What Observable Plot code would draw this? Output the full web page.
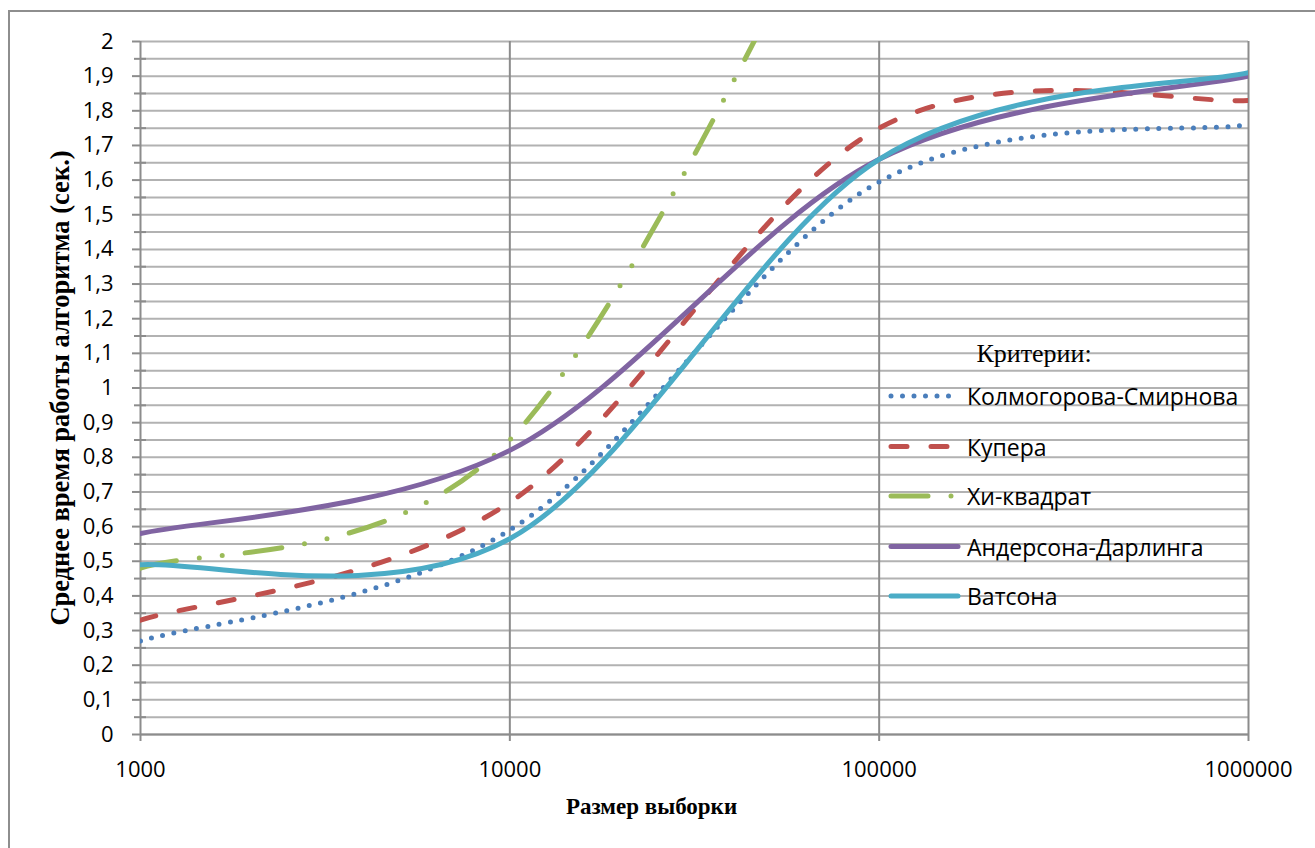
<!DOCTYPE html>
<html><head><meta charset="utf-8">
<script src="https://cdn.jsdelivr.net/npm/d3@7"></script>
<script src="https://cdn.jsdelivr.net/npm/@observablehq/plot@0.6"></script>
<style>
html,body{margin:0;padding:0;background:#fff;overflow:hidden;}
#wrap{position:relative;width:1315px;height:848px;}
#wrap svg{position:absolute;left:0;top:0;}
#frame{position:absolute;left:8px;top:10px;width:1400px;height:900px;border-left:2px solid #8e8e8e;border-top:2px solid #8e8e8e;}
</style></head><body><div id="wrap"><div id="frame"></div></div>
<script>
// ---- data ----
const sizes = [1000, 10000, 100000, 1000000];
const kolmogorov = [0.27, 0.59, 1.595, 1.76];
const kuiper = [0.33, 0.67, 1.75, 1.83];
const chiSizes = [1000, 10000, 100000];
const chiSquare = [0.48, 0.85, 2.70];
const anderson = [0.58, 0.82, 1.66, 1.90];
const watson = [0.49, 0.565, 1.66, 1.91];

const seriesNames = ["Колмогорова-Смирнова", "Купера", "Хи-квадрат", "Андерсона-Дарлинга", "Ватсона"];
const seriesColors = ["#4a7ebb", "#c0504d", "#9bbb59", "#8064a2", "#4bacc6"];
const xTicks = [1000, 10000, 100000, 1000000];
const yTicks = [0, 0.1, 0.2, 0.3, 0.4, 0.5, 0.6, 0.7, 0.8, 0.9, 1, 1.1, 1.2, 1.3, 1.4, 1.5, 1.6, 1.7, 1.8, 1.9, 2];
const yMinor = yTicks.slice(0, -1).map(v => +(v + 0.05).toFixed(2));
const xTitle = "Размер выборки";
const yTitle = "Среднее время работы алгоритма (сек.)";
const legendTitle = "Критерии:";

// ---- styles ----
const W = 5;
const dashes = ["0 11.5", "16 24", "37 23 0 23 0 23", null, null];
const SANS = "'Open Sans', sans-serif";
const SERIF = "'Liberation Serif', 'DejaVu Serif', serif";

// Excel-like smoothing (Bezier control points at ±(P[i+1]-P[i-1])/6)
function excelSmooth(context) {
  let pts;
  return {
    areaStart() {}, areaEnd() {},
    lineStart() { pts = []; },
    point(x, y) { pts.push([+x, +y]); },
    lineEnd() {
      const n = pts.length;
      if (!n) return;
      context.moveTo(pts[0][0], pts[0][1]);
      for (let i = 0; i < n - 1; i++) {
        const p0 = pts[Math.max(i - 1, 0)], p1 = pts[i], p2 = pts[i + 1], p3 = pts[Math.min(i + 2, n - 1)];
        context.bezierCurveTo(
          p1[0] + (p2[0] - p0[0]) / 6, p1[1] + (p2[1] - p0[1]) / 6,
          p2[0] - (p3[0] - p1[0]) / 6, p2[1] - (p3[1] - p1[1]) / 6,
          p2[0], p2[1]);
      }
    }
  };
}

const rows = (xs, ys) => xs.map((x, i) => ({size: x, value: ys[i]}));
const seriesData = [
  rows(sizes, kolmogorov),
  rows(sizes, kuiper),
  rows(chiSizes, chiSquare),
  rows(sizes, anderson),
  rows(sizes, watson)
];

const fmtY = d => String(+d.toFixed(1)).replace(".", ",");

const lineMarks = seriesData.map((data, i) => Plot.line(data, {
  x: "size", y: "value", stroke: seriesColors[i], strokeWidth: W,
  strokeDasharray: dashes[i] || undefined, strokeLinecap: "round",
  curve: excelSmooth, clip: true
}));

const chart = Plot.plot({
  width: 1315, height: 848,
  marginLeft: 140, marginRight: 67, marginTop: 41, marginBottom: 114,
  style: {background: "transparent", fontFamily: SANS},
  x: {type: "log", domain: [1000, 1000000]},
  y: {domain: [0, 2]},
  marks: [
    Plot.ruleY(yTicks.concat(yMinor), {stroke: "#b2b2b2", strokeWidth: 2}),
    Plot.ruleX(xTicks, {stroke: "#8c8c8c", strokeWidth: 2}),
    Plot.ruleY([0], {stroke: "#8c8c8c", strokeWidth: 2}),
    Plot.axisX({ticks: xTicks, tickFormat: d => String(d), tickSize: 7, tickPadding: 20,
      stroke: "#8c8c8c", strokeWidth: 2, fontSize: 22, fill: "#000", label: null}),
    Plot.axisY({ticks: yTicks, tickFormat: fmtY, tickSize: 8, tickPadding: 19,
      stroke: "#8c8c8c", strokeWidth: 2, fontSize: 22, fill: "#000", label: null}),
    Plot.axisY({ticks: yMinor, tickFormat: () => "", tickSize: 12, dx: 6,
      stroke: "#8c8c8c", strokeWidth: 2, label: null}),
    ...lineMarks,
    Plot.text([xTitle], {frameAnchor: "bottom", textAnchor: "middle", dx: -43, dy: 72, fontFamily: SERIF,
      fontWeight: "bold", fontSize: 23, fill: "#000", lineAnchor: "middle"}),
    Plot.text([yTitle], {frameAnchor: "left", textAnchor: "middle", dx: -80, rotate: -90, fontFamily: SERIF,
      fontWeight: "bold", fontSize: 26.5, fill: "#000", lineAnchor: "middle"})
  ]
});
const wrap = document.getElementById("wrap");
wrap.insertBefore(chart, wrap.firstChild);

// ---- legend (inside plot area, drawn on an overlay) ----
const lg = d3.select(wrap).append("svg")
  .attr("width", 1315).attr("height", 848)
  .style("position", "absolute").style("left", 0).style("top", 0);
lg.append("text").attr("x", 1034).attr("y", 353).attr("text-anchor", "middle")
  .attr("dominant-baseline", "central").attr("font-family", SERIF).attr("font-size", 26)
  .text(legendTitle);
const rowY = [396, 446.5, 496, 546.5, 596];
seriesNames.forEach((name, i) => {
  const g = lg.append("g");
  g.append("line").attr("x1", 891).attr("x2", 958).attr("y1", rowY[i]).attr("y2", rowY[i])
    .attr("stroke", seriesColors[i]).attr("stroke-width", W).attr("stroke-linecap", "round")
    .attr("stroke-dasharray", dashes[i]);
  g.append("text").attr("x", 967).attr("y", rowY[i]).attr("dominant-baseline", "central")
    .attr("font-family", SANS).attr("font-size", 23).text(name);
});
</script></body></html>
